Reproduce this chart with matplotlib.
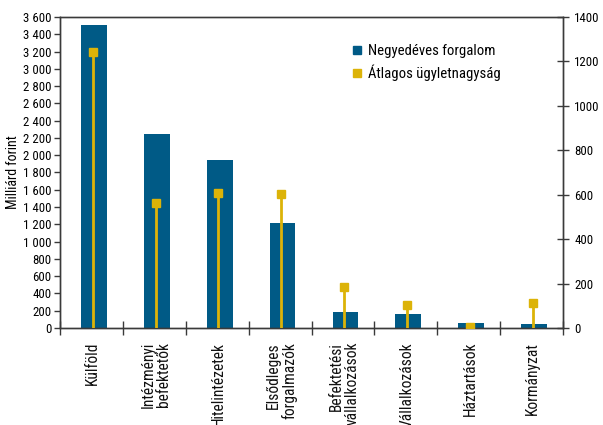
import matplotlib
matplotlib.use("Agg")
import matplotlib.pyplot as plt
from matplotlib import font_manager as fm
from matplotlib.ticker import FuncFormatter, MultipleLocator, FixedLocator
from matplotlib.lines import Line2D
import numpy as np

_avail = {f.name for f in fm.fontManager.ttflist}
_cands = ['Roboto Condensed', 'Archivo Narrow', 'Barlow Semi Condensed', 'Asap Condensed']
_main = [c for c in _cands if c in _avail][:1]
plt.rcParams['font.family'] = _main + ['DejaVu Sans']

categories = ["Külföld", "Intézményi\nbefektetők", "Hitelintézetek", "Elsődleges\nforgalmazók",
              "Befektetési\nvállalkozások", "Vállalkozások", "Háztartások", "Kormányzat"]
turnover = [3505, 2245, 1945, 1215, 185, 162, 58, 46]          # Negyedéves forgalom (left axis)
avg_size = [1241, 563, 608, 603, 183, 102, 5, 111]             # Átlagos ügyletnagyság (right axis)

blue = '#005a86'
yellow = '#dcb308'
spine_c = '#3a3a3a'

fig = plt.figure(figsize=(6.03, 4.25), dpi=100)
ax = fig.add_axes([60/603, 1-328/425, (563-60)/603, (328-17)/425])
ax2 = ax.twinx()

x = np.arange(len(categories))
ax.bar(x + 0.04, turnover, width=0.41, color=blue, zorder=2)
ax.set_xlim(-0.5, len(categories) - 0.5)
ax.set_ylim(0, 3600)
ax.yaxis.set_major_locator(MultipleLocator(200))
ax.yaxis.set_major_formatter(FuncFormatter(lambda v, p: f"{int(v):,}".replace(",", " ")))
ax.set_ylabel("Milliárd forint", fontsize=10, labelpad=2)

ax2.vlines(x + 0.02, 0, avg_size, color=yellow, linewidth=2.0, zorder=3)
ax2.plot(x + 0.02, avg_size, linestyle='none', marker='s', markersize=5.2, color=yellow, zorder=4)
ax2.set_ylim(0, 1400)
ax2.yaxis.set_major_locator(MultipleLocator(200))

# category boundary ticks
ax.xaxis.set_major_locator(FixedLocator(np.arange(-0.5, len(categories), 1.0)))
ax.xaxis.set_major_formatter(FuncFormatter(lambda v, p: ""))
ax.tick_params(axis='x', which='major', direction='inout', length=10, width=1, color=spine_c)
ax.tick_params(axis='y', direction='out', length=4, width=1, color=spine_c, labelsize=9.3, pad=2)
ax2.tick_params(axis='y', direction='inout', length=8, width=1, color=spine_c, labelsize=9.3, pad=4)

for i, lab in enumerate(categories):
    ax.text(i + 0.02, -0.045, lab, transform=ax.get_xaxis_transform(), rotation=90,
            ha='center', va='top', multialignment='right', fontsize=11.2, color='#111111',
            linespacing=1.05)

for a in (ax, ax2):
    for s in a.spines.values():
        s.set_color(spine_c)
        s.set_linewidth(1)
ax.spines['top'].set_color('#555555')

handles = [Line2D([], [], linestyle='none', marker='s', markersize=5.5, color=blue),
           Line2D([], [], linestyle='none', marker='s', markersize=5.5, color=yellow)]
ax2.legend(handles, ["Negyedéves forgalom", "Átlagos ügyletnagyság"], loc='upper left',
           bbox_to_anchor=(0.55, 0.955), frameon=False, fontsize=10.6, handletextpad=0.25,
           labelspacing=0.45, handlelength=1.0)

fig.savefig("out.png", dpi=100)
